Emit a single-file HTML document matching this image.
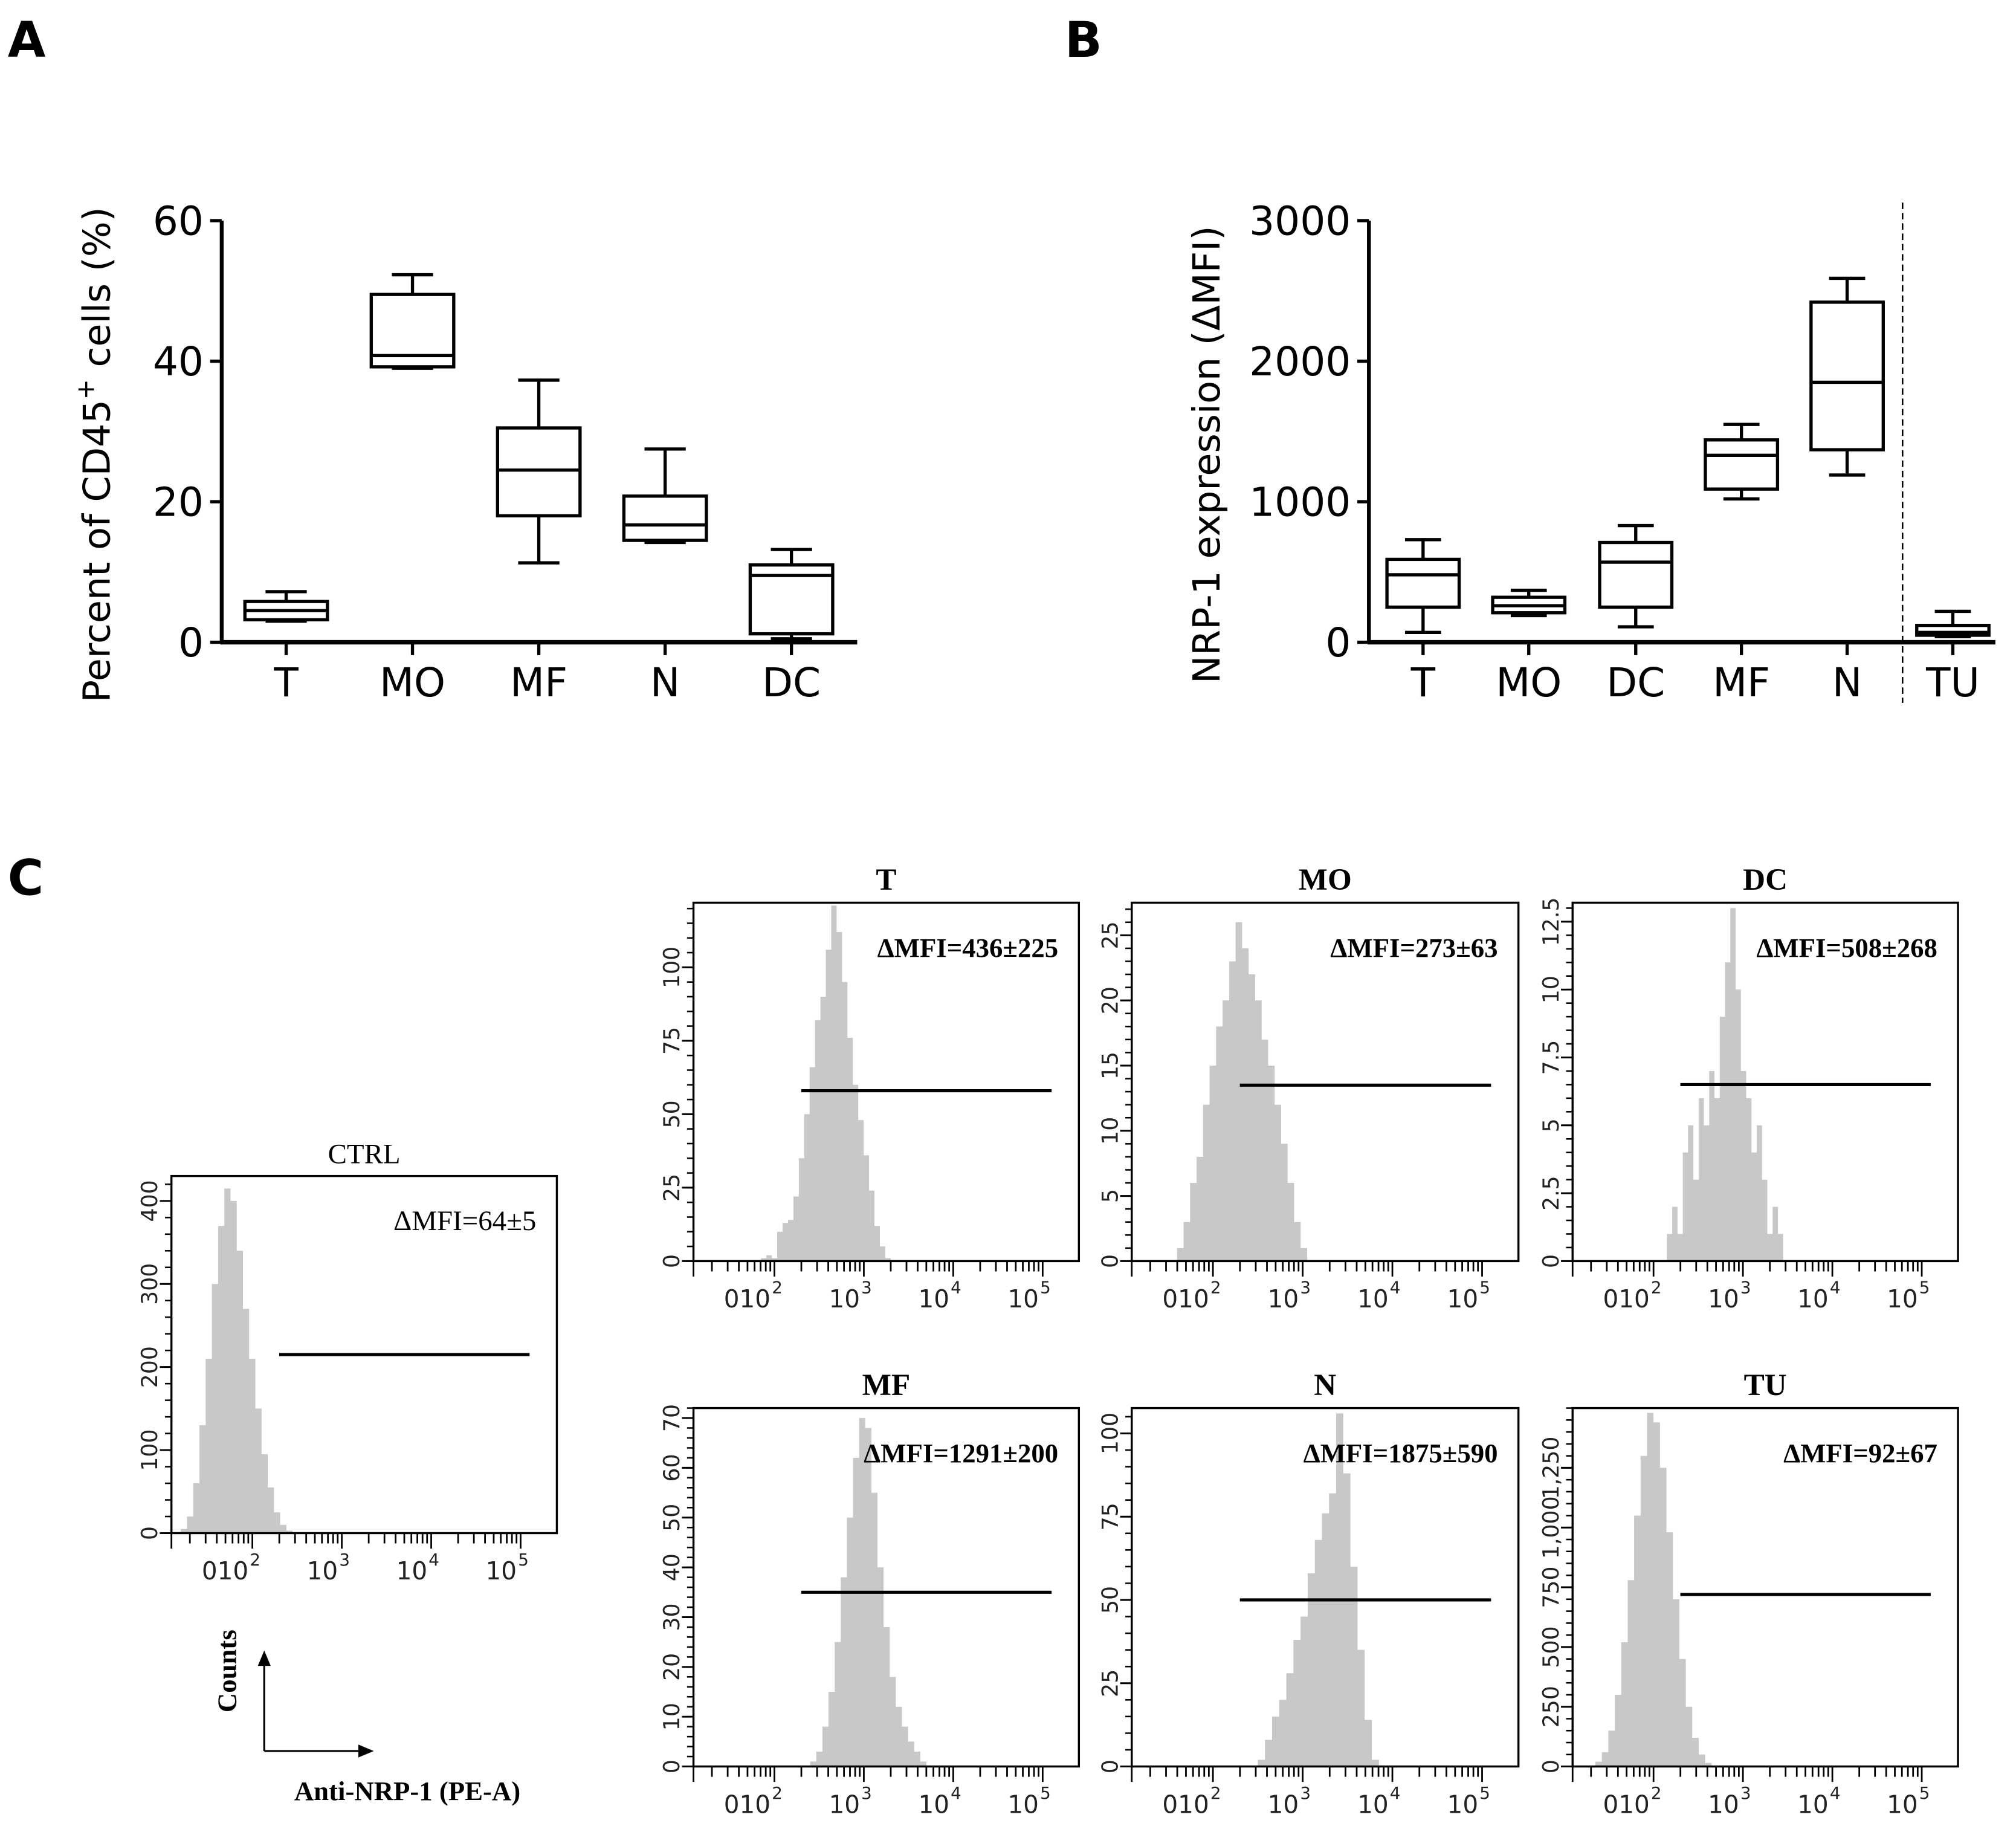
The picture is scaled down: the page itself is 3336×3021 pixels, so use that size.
<!DOCTYPE html>
<html><head><meta charset="utf-8"><style>
html,body{margin:0;padding:0;background:#fff}
svg{display:block}
.sans{font-family:"DejaVu Sans","Liberation Sans",sans-serif}
.serif{font-family:"Liberation Serif","DejaVu Serif",serif}
</style></head><body>
<svg id="fig" width="3336" height="3021" viewBox="0 0 1564 1416" xmlns="http://www.w3.org/2000/svg">
<rect width="1564" height="1416" fill="#fff"/>
<text x="6" y="44" font-size="38" font-weight="bold" class="sans">A</text>
<text x="826" y="44" font-size="38" font-weight="bold" class="sans">B</text>
<text x="6" y="694" font-size="38" font-weight="bold" class="sans">C</text>
<g id="gA"></g>
<g id="gB"></g>
<g id="gC"></g>
<g>
<line x1="205" y1="1358" x2="205" y2="1288" stroke="#000" stroke-width="1.5"/>
<polygon points="205,1280 200,1292 210,1292" fill="#000"/>
<line x1="205" y1="1358" x2="282" y2="1358" stroke="#000" stroke-width="1.5"/>
<polygon points="290,1358 278,1353 278,1363" fill="#000"/>
<text transform="translate(183,1296) rotate(-90)" text-anchor="middle" font-size="21" font-weight="bold" class="serif">Counts</text>
<text x="316" y="1396" text-anchor="middle" font-size="21" font-weight="bold" class="serif">Anti-NRP-1 (PE-A)</text>
</g>
</svg>
<script>
const NS="http://www.w3.org/2000/svg";
// Panel A data
const catsA=["T","MO","MF","N","DC"];
const minA=[3,39,11.3,14.2,0.5];
const q1A=[3.2,39.2,18,14.5,1.2];
const medA=[4.5,40.8,24.5,16.7,9.5];
const q3A=[5.8,49.5,30.5,20.8,11];
const maxA=[7.2,52.3,37.3,27.5,13.2];
const ticksA=[0,20,40,60];
// Panel B data
const catsB=["T","MO","DC","MF","N","TU"];
const minB=[70,190,110,1020,1190,40];
const q1B=[250,210,250,1090,1370,50];
const medB=[480,260,570,1330,1850,70];
const q3B=[590,320,710,1440,2420,120];
const maxB=[730,370,830,1550,2590,220];
const ticksB=[0,1000,2000,3000];
// Panel C histogram data
const histNames=["CTRL","T","MO","DC","MF","N","TU"];
const histMFI=["ΔMFI=64±5","ΔMFI=436±225","ΔMFI=273±63","ΔMFI=508±268","ΔMFI=1291±200","ΔMFI=1875±590","ΔMFI=92±67"];
const histTicks=[[0,100,200,300,400],[0,25,50,75,100],[0,5,10,15,20,25],[0,2.5,5,7.5,10,12.5],[0,10,20,30,40,50,60,70],[0,25,50,75,100],[0,250,500,750,1000,1250]];
const histTickLabels=[["0","100","200","300","400"],["0","25","50","75","100"],["0","5","10","15","20","25"],["0","2.5","5","7.5","10","12.5"],["0","10","20","30","40","50","60","70"],["0","25","50","75","100"],["0","250","500","750","1,000","1,250"]];
const histYMax=[430,122,27.5,13.2,72,107.6,1500];
const histLgStart=[1.2,1.85,1.6,2.15,2.4,2.5,1.35];
const histLgEnd=[2.45,3.3,3.05,3.45,3.7,3.85,2.65];
const histGate=[215,58,13.5,6.5,35,50,720];
const countsCTRL=[5,20,60,130,210,300,370,415,400,340,270,210,150,95,55,25,10,3];
const countsT=[1,2,1,10,13,14,22,35,50,66,82,90,106,121,112,95,76,60,48,36,24,12,5,1];
const countsMO=[1,3,6,8,12,15,18,20,23,26,24,22,20,17,15,12,9,6,3,1];
const countsDC=[1,2,1,4,5,3,6,5,7,6,9,11,13,10,7,6,4,5,3,1,2,1];
const countsMF=[1,3,8,15,25,38,50,62,70,68,55,40,28,18,12,8,5,3,1];
const countsN=[2,8,15,20,28,38,45,58,68,76,82,106,88,60,35,14,2];
const countsTU=[20,60,150,300,520,780,1050,1300,1480,1440,1250,980,700,450,250,120,50,15];
const histCounts=[countsCTRL,countsT,countsMO,countsDC,countsMF,countsN,countsTU];
// layout
const frames=[[133,912,432,1189],[538,700,837,978],[878,700,1178,978],[1220,700,1519,978],[538,1092,837,1370],[878,1092,1178,1370],[1220,1092,1519,1370]];

function el(tag,attrs,parent,text){const e=document.createElementNS(NS,tag);for(const k in attrs)e.setAttribute(k,attrs[k]);if(text!==undefined)e.textContent=text;parent.appendChild(e);return e;}

function boxPanel(g,cats,mn,q1,md,q3,mx,ticks,tmax,ax,xs,xEnd,bw,label,prefix,labOff){
  const y0=498,yT=171;
  const y=v=>y0-(v/tmax)*(y0-yT);
  el("line",{x1:ax,y1:yT,x2:ax,y2:y0+1,stroke:"#000","stroke-width":3},g);
  el("line",{x1:ax-1,y1:y0,x2:xEnd,y2:y0,stroke:"#000","stroke-width":3.5},g);
  ticks.forEach(t=>{el("line",{x1:ax-9,y1:y(t),x2:ax,y2:y(t),stroke:"#000","stroke-width":2.5},g);
    const tx=el("text",{x:ax-14,y:y(t)+11,"text-anchor":"end","font-size":31,class:"sans"},g,String(t));
    
    });
  const lb=el("text",{transform:`translate(${ax-labOff},${(y0+yT)/2+18}) rotate(-90)`,"text-anchor":"middle","font-size":29,class:"sans"},g);
  lb.innerHTML=label;
  
  
  cats.forEach((c,i)=>{const cx=xs[i];
    const b=el("g",{},g);
    
    
    el("line",{x1:cx,y1:y(mx[i]),x2:cx,y2:y(q3[i]),stroke:"#000","stroke-width":2.5},b);
    el("line",{x1:cx,y1:y(q1[i]),x2:cx,y2:y(mn[i]),stroke:"#000","stroke-width":2.5},b);
    el("line",{x1:cx-bw/4,y1:y(mx[i]),x2:cx+bw/4,y2:y(mx[i]),stroke:"#000","stroke-width":2.5},b);
    el("line",{x1:cx-bw/4,y1:y(mn[i]),x2:cx+bw/4,y2:y(mn[i]),stroke:"#000","stroke-width":2.5},b);
    el("rect",{x:cx-bw/2,y:y(q3[i]),width:bw,height:y(q1[i])-y(q3[i]),fill:"#fff",stroke:"#000","stroke-width":2.5},b);
    el("line",{x1:cx-bw/2,y1:y(md[i]),x2:cx+bw/2,y2:y(md[i]),stroke:"#000","stroke-width":2.5},b);
    el("line",{x1:cx,y1:y0,x2:cx,y2:y0+10,stroke:"#000","stroke-width":2.5},g);
    const t=el("text",{x:cx,y:540,"text-anchor":"middle","font-size":31,class:"sans"},g,c);
    
    
  });
}
boxPanel(document.getElementById("gA"),catsA,minA,q1A,medA,q3A,maxA,ticksA,60,172,[222,320,418,516,614],665,64,'Percent of CD45<tspan font-size="19" dy="-12">+</tspan><tspan dy="12"> cells (%)</tspan>',"a",87);
boxPanel(document.getElementById("gB"),catsB,minB,q1B,medB,q3B,maxB,ticksB,3000,1062,[1104,1186,1269,1351,1433,1515],1548,56,'NRP-1 expression (ΔMFI)',"b",116);
{const g=document.getElementById("gB");const d=el("line",{x1:1476,y1:157,x2:1476,y2:545,stroke:"#000","stroke-width":1.2,"stroke-dasharray":"5,3"},g);

}

const gC=document.getElementById("gC");
histNames.forEach((nm,k)=>{
  const [L,T,R,B]=frames[k];const W=R-L,H=B-T;
  const g=el("g",{},gC);
  
  
  const xl=lg=>L+W*(0.21+(lg-2)*0.232);
  const yv=v=>B-(v/histYMax[k])*H;
  const c=histCounts[k];const s=histLgStart[k],e=histLgEnd[k];const st=(e-s)/c.length;
  let pts=`${xl(s)},${B} `;
  c.forEach((v,i)=>{pts+=`${xl(s+i*st)},${yv(v)} ${xl(s+(i+1)*st)},${yv(v)} `;});
  pts+=`${xl(e)},${B}`;
  const p=el("polygon",{points:pts,fill:"#c8c8c8"},g);
  
  
  el("rect",{x:L,y:T,width:W,height:H,fill:"none",stroke:"#000","stroke-width":1.6},g);
  const tk=histTicks[k];const step=tk[1]-tk[0];
  for(let v=0;v<=histYMax[k]+1e-9;v+=step/5){el("line",{x1:L-5,y1:yv(v),x2:L,y2:yv(v),stroke:"#000","stroke-width":1.2},g);}
  tk.forEach((v,i)=>{el("line",{x1:L-9,y1:yv(v),x2:L,y2:yv(v),stroke:"#000","stroke-width":1.4},g);
    const t=el("text",{transform:`translate(${L-11},${yv(v)}) rotate(-90)`,"text-anchor":"middle","font-size":17,fill:"#222",class:"sans"},g,histTickLabels[k][i]);
    
    });
  const xt=[];for(let d=1;d<=4;d++)for(let m=1;m<=9;m++)xt.push(d+Math.log10(m));xt.push(5);
  xt.forEach(lg=>{const x=xl(lg);if(x<L||x>R)return;const maj=Math.abs(lg-Math.round(lg))<1e-6&&lg>=2;
    el("line",{x1:x,y1:B,x2:x,y2:B+(maj?12:8),stroke:"#000","stroke-width":1.3},g);});
  el("line",{x1:L,y1:B,x2:L,y2:B+12,stroke:"#000","stroke-width":1.3},g);
  [2,3,4,5].forEach(d=>{const x=xl(d);
    const t=el("text",{x:x-3,y:B+36,"text-anchor":"end","font-size":19,fill:"#222",class:"sans"},g,(d===2?"0":"")+"10");
    
    
    el("text",{x:x-2,y:B+25,"font-size":13,fill:"#222",class:"sans"},g,String(d));});
  const gl=el("line",{x1:xl(2.3),y1:yv(histGate[k]),x2:xl(5.1),y2:yv(histGate[k]),stroke:"#000","stroke-width":2.4},g);
  
  
  const ti=el("text",{x:(L+R)/2,y:T-10,"text-anchor":"middle","font-size":nm==="CTRL"?22:24,"font-weight":nm==="CTRL"?"normal":"bold",class:"serif"},g,nm);
  
  
  const mf=el("text",{x:R-16,y:T+42,"text-anchor":"end","font-size":nm==="CTRL"?22:21,"font-weight":nm==="CTRL"?"normal":"bold",class:"serif"},g,histMFI[k]);
  
  
});
</script>
</body></html>
